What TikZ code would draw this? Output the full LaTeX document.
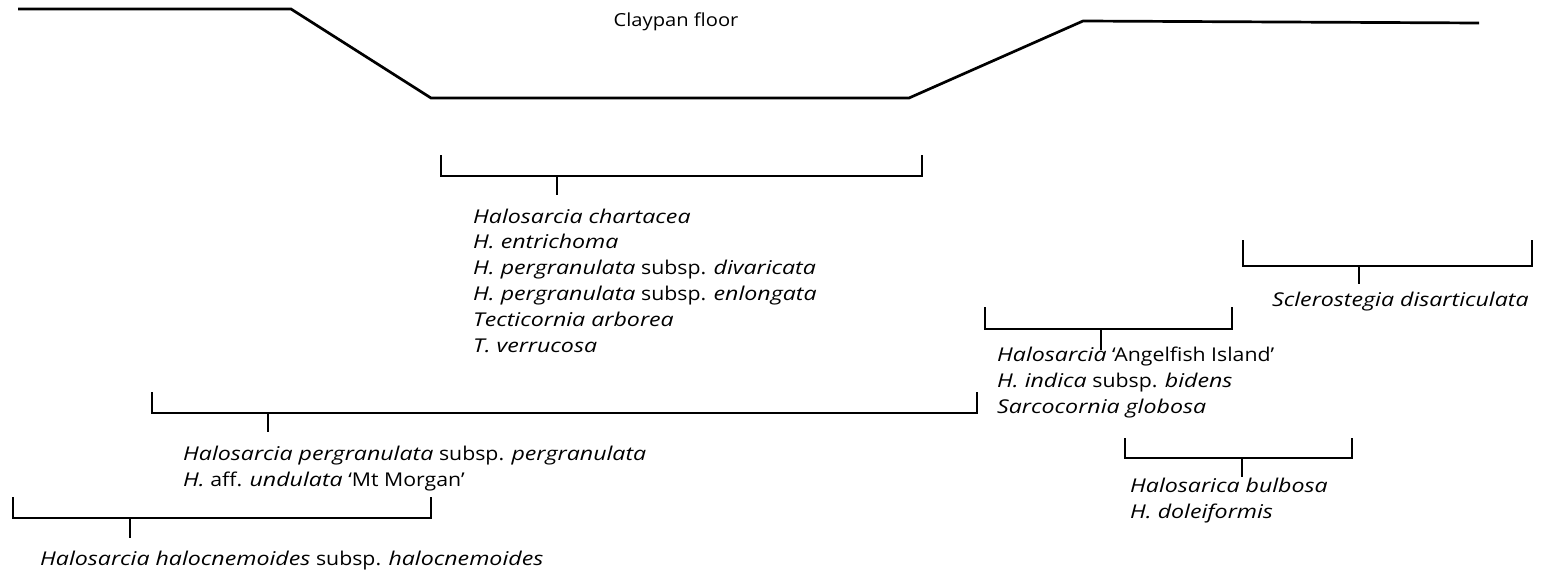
\documentclass[tikz,border=0pt]{standalone}
\usepackage{fontspec}
\setmainfont{Open Sans}[UprightFeatures={FakeStretch=1.12}, ItalicFeatures={FakeStretch=1.22}]
\newcommand{\drawbrk}[7]{% name, L, R, top, bar, stemx, stembottom
  \coordinate (#1tl) at (#2,#4);
  \coordinate (#1bl) at (#2,#5);
  \coordinate (#1br) at (#3,#5);
  \coordinate (#1tr) at (#3,#4);
  \coordinate (#1s) at (#6,#5);
  \coordinate (#1e) at (#6,#7);
  \draw[brk] (#1tl) -- (#1bl) -- (#1br) -- (#1tr);
  \draw[brk] (#1s) -- (#1e);
}
\begin{document}
\begin{tikzpicture}[x=1pt,y=-1pt,
  brk/.style={line width=2.6pt, line join=miter, line cap=butt},
  prof/.style={line width=2.7pt, line join=miter},
  lbl/.style={inner sep=0pt, anchor=base west, align=left, font=\fontsize{19}{25.8}\selectfont},
  ttl/.style={inner sep=0pt, anchor=base, font=\fontsize{18}{25.8}\selectfont}]
\useasboundingbox (0,0) rectangle (1549,575);
% profile
\coordinate (p1) at (18,9);
\coordinate (p2) at (291,9);
\coordinate (p3) at (431,98);
\coordinate (p4) at (909,98);
\coordinate (p5) at (1083,21);
\coordinate (p6) at (1479,23);
\draw[prof] (p1) -- (p2) -- (p3) -- (p4) -- (p5) -- (p6);
\node[ttl] (floor) at (676,27) {Claypan floor};
% brackets
\drawbrk{a}{441}{922}{155}{176}{557}{195}
\drawbrk{b}{1243}{1532}{240}{266}{1359}{284}
\drawbrk{c}{985}{1232}{307}{329}{1101}{350}
\drawbrk{d}{152}{977}{392}{413}{268}{432}
\drawbrk{e}{1125}{1352}{438}{458}{1242}{477}
\drawbrk{f}{13}{431}{497}{518}{130}{538}
% labels (base anchor = baseline of last line)
\node[lbl] (ta) at (473,352) {\textit{Halosarcia chartacea}\\
\textit{H. entrichoma}\\
\textit{H. pergranulata} subsp. \textit{divaricata}\\
\textit{H. pergranulata} subsp. \textit{enlongata}\\
\textit{Tecticornia arborea}\\
\textit{T. verrucosa}};
\node[lbl] (tb) at (1272,306) {\textit{Sclerostegia disarticulata}};
\node[lbl] (tc) at (997,413) {\textit{Halosarcia} `Angelfish Island'\\
\textit{H. indica} subsp. \textit{bidens}\\
\textit{Sarcocornia globosa}};
\node[lbl] (td) at (183,486) {\textit{Halosarcia pergranulata} subsp. \textit{pergranulata}\\
\textit{H.} aff. \textit{undulata} `Mt Morgan'};
\node[lbl] (te) at (1130,518) {\textit{Halosarica bulbosa}\\
\textit{H. doleiformis}};
\node[lbl] (tf) at (40,565) {\textit{Halosarcia halocnemoides} subsp. \textit{halocnemoides}};
\end{tikzpicture}
\end{document}
